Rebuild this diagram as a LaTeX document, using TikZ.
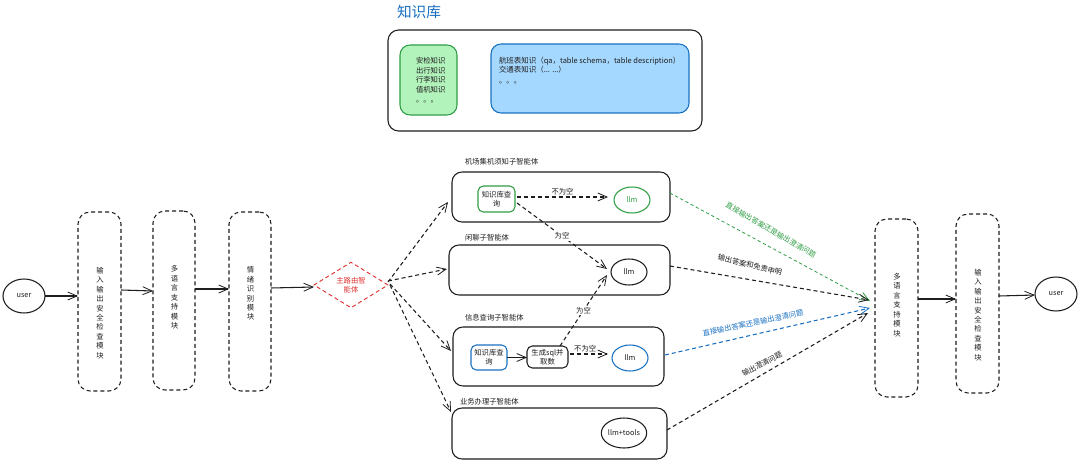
\documentclass[tikz,border=0pt]{standalone}
\usepackage{fontspec}
\setmainfont{Noto Sans CJK SC}
\usetikzlibrary{arrows.meta,shapes.geometric,calc}
\definecolor{ink}{HTML}{1E1E1E}
\definecolor{kbgreen}{HTML}{2F9E44}
\definecolor{kbgreenfill}{HTML}{B2F2BB}
\definecolor{kbblue}{HTML}{1971C2}
\definecolor{kbbluefill}{HTML}{A5D8FF}
\definecolor{kbred}{HTML}{E03131}
\tikzset{
  >={Straight Barb[length=7pt,width=6pt,line width=0.6pt]},
  sz/.style 2 args={minimum width=#1*0.75pt,minimum height=#2*0.75pt},
  base/.style={inner sep=0pt,outer sep=0pt,text=ink,font=\fontsize{5.5}{7}\selectfont,align=center},
  txt/.style={base},
  txtl/.style={base,align=left,anchor=west},
  vert/.style={base,font=\fontsize{5.5}{7.1}\selectfont},
  solidbox/.style={base,draw=ink,line width=0.8pt,rounded corners=7.5pt},
  dashbox/.style={base,draw=ink,line width=0.8pt,rounded corners=9pt,dash pattern=on 3pt off 2.2pt},
  innerbox/.style={base,draw=ink,line width=0.8pt,rounded corners=4pt},
  oval/.style={base,ellipse,draw=ink,line width=0.8pt},
  conn/.style={->,draw=ink,line width=0.8pt},
  dconn/.style={conn,dash pattern=on 3pt off 2.2pt},
  gconn/.style={dconn,draw=kbgreen,line width=0.6pt,dash pattern=on 2.4pt off 2pt},
  bconn/.style={dconn,draw=kbblue},
  onwhite/.style={txt,fill=white,inner sep=1pt},
}
\begin{document}
\begin{tikzpicture}[x=0.75pt,y=-0.75pt]
\useasboundingbox[fill=white] (0,0) rectangle (1080,463);

% knowledge base
\node[base,font=\fontsize{11}{13}\selectfont,text=kbblue,anchor=west] (kbtitle) at (397,12) {知识库};
\node[solidbox,sz={314}{101},rounded corners=8pt] (kb) at (545,80.5) {};
\node[solidbox,sz={57}{70},draw=kbgreen,fill=kbgreenfill] (kbg) at (428.5,80) {};
\node[txtl,font=\fontsize{5.5}{7.1}\selectfont] (kbgt) at (416,80.5) {安检知识\\出行知识\\行李知识\\值机知识\\[1pt]。。。};
\node[solidbox,sz={198}{69},draw=kbblue,fill=kbbluefill] (kbb) at (590,78.5) {};
\node[txtl,font=\fontsize{5.6}{7.1}\selectfont] (kbbt) at (499,70.5) {航班表知识（qa，table schema，table description）\\交通表知识（... ...）\\[1pt]。。。};

% left column
\node[oval,sz={42}{34}] (userl) at (24,296) {\itshape user};
\node[dashbox,sz={43}{179}] (b1) at (99.5,301.5) {};
\node[vert] (b1t) at (100,313) {输\\入\\输\\出\\安\\全\\检\\查\\模\\块};
\node[dashbox,sz={42}{179}] (b2) at (174,300.5) {};
\node[vert] (b2t) at (174.5,297.5) {多\\语\\言\\支\\持\\模\\块};
\node[dashbox,sz={42}{179}] (b3) at (250,301.5) {};
\node[vert] (b3t) at (250.5,293.5) {情\\绪\\识\\别\\模\\块};
\node[diamond,base,draw=kbred,line width=0.7pt,dash pattern=on 3pt off 2.2pt,sz={74}{42},text=kbred] (router) at (351,285) {主路由智\\能体};

% agents
\node[solidbox,sz={218}{50}] (a1) at (561,197) {};
\node[txtl] (a1t) at (465,162) {机场集机须知子智能体};
\node[solidbox,sz={221}{50}] (a2) at (559.5,270) {};
\node[txtl] (a2t) at (465,238) {闲聊子智能体};
\node[solidbox,sz={211}{59}] (a3) at (558.5,356.5) {};
\node[txtl] (a3t) at (465,318) {信息查询子智能体};
\node[solidbox,sz={215}{51}] (a4) at (559.5,433.5) {};
\node[txtl] (a4t) at (460,402) {业务办理子智能体};

\node[innerbox,sz={37}{26},draw=kbgreen] (q1) at (496.5,199) {知识库查\\询};
\node[oval,sz={36}{26},draw=kbgreen,text=kbgreen] (llm1) at (632,200) {llm};
\node[oval,sz={36}{26}] (llm2) at (629,272) {llm};
\node[innerbox,sz={36}{25},draw=kbblue] (q3) at (489,357.5) {知识库查\\询};
\node[innerbox,sz={41}{22}] (gen) at (547.5,357) {生成sql并\\取数};
\node[oval,sz={36}{26},draw=kbblue] (llm3) at (630,358) {llm};
\node[oval,sz={44}{30}] (llm4) at (624,433) {llm+tools};

% right column
\node[dashbox,sz={43}{178}] (r1) at (896.5,308) {};
\node[vert] (r1t) at (897,305) {多\\语\\言\\支\\持\\模\\块};
\node[dashbox,sz={43}{179}] (r2) at (977.5,303.5) {};
\node[vert] (r2t) at (978,315) {输\\入\\输\\出\\安\\全\\检\\查\\模\\块};
\node[oval,sz={42}{34}] (userr) at (1056,294) {user};

% flow connectors
\draw[conn] (userl.east) -- (b1.west |- userl.east);
\draw[conn] ($(b1.east)+(0,-11.5)$) -- ($(b2.west)+(0,-9.5)$);
\draw[conn] ($(b2.east)+(0,-11.5)$) -- ($(b3.west)+(0,-12.5)$);
\draw[conn] ($(b3.east)+(0,-13.5)$) -- ($(router.west)+(0,2)$);
\draw[dconn] ($(router.east)+(0,-3)$) -- ($(a1.west)+(-4,5)$);
\draw[dconn] ($(router.east)+(0,-4)$) -- ($(a2.west)+(-2,-1)$);
\draw[dconn] ($(router.east)+(2,-1)$) -- ($(a3.west)+(-2,-5.5)$);
\draw[dconn] ($(router.east)+(2,0)$) -- ($(a4.west)+(-1,-21.5)$);

\draw[dconn] ($(q1.east)+(2,-2)$) -- node[above=1.5pt,txt] (lb1) {不为空} ($(llm1.west)+(-6,-3)$);
\draw[dconn] ($(q1.east)+(2,4)$) -- node[onwhite] (lb2) {为空} ($(llm2.west)+(-4,-3)$);
\draw[dconn] ($(gen.north)+(12.5,0)$) -- node[onwhite] (lb3) {为空} ($(llm2.west)+(-4,3)$);
\draw[conn] (q3.east) -- (gen.west |- q3.east);
\draw[dconn] ($(gen.east)+(2,-3)$) -- node[above=1.5pt,txt,pos=0.4] (lb4) {不为空} ($(llm3.west)+(-4,-4)$);

\draw[gconn] ($(a1.east)+(0,-4)$) -- ($(r1.west)+(-5,-7)$);
\draw[dconn] ($(a2.east)+(0,-4)$) -- ($(r1.west)+(-6,-8)$);
\draw[bconn] ($(a3.east)+(1,-1.5)$) -- ($(r1.west)+(-5,0)$);
\draw[dconn] ($(a4.east)+(0,-3.5)$) -- ($(r1.west)+(-7,5)$);

\node[txt,text=kbgreen,rotate=-30] (e1) at (771,230) {直接输出答案还是输出澄清问题};
\node[txt,rotate=-14] (e2) at (750,265) {输出答案和免责申明};
\node[txt,text=kbblue,rotate=12] (e3) at (753,323) {直接输出答案还是输出澄清问题};
\node[txt,rotate=28] (e4) at (762,364) {输出澄清问题};

\draw[conn] ($(r1.east)+(0,-9)$) -- ($(r2.west)+(0,-4.5)$);
\draw[conn] ($(r2.east)+(0,-7.5)$) -- ($(userr.west)+(0,1)$);
\end{tikzpicture}
\end{document}
